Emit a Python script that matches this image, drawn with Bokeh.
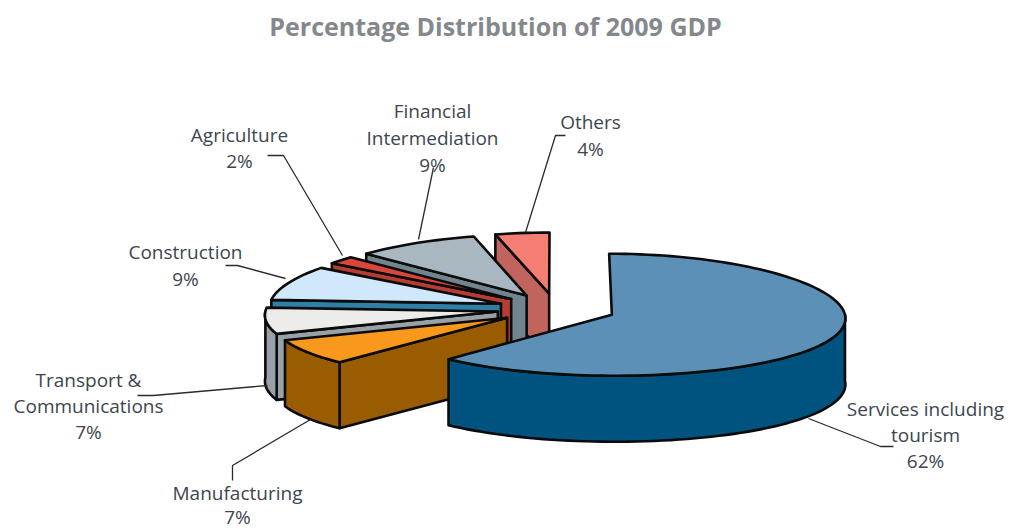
import math
from bokeh.plotting import figure
from bokeh.embed import file_html
from bokeh.resources import INLINE
from bokeh.core.properties import value

# Shares of 2009 GDP, clockwise from twelve o'clock
sectors = ["Services including tourism", "Manufacturing", "Transport & Communications",
           "Construction", "Agriculture", "Financial Intermediation", "Others"]
shares = [62, 7, 7, 9, 2, 9, 4]
top_colors = ["#5c90b6", "#f8981d", "#ececea", "#cfe9fb", "#d8463c", "#a9b8c0", "#f47d74"]
side_colors = ["#00527f", "#995c00", "#99a1a8", "#2f7fa6", "#b73c33", "#71858f", "#c2645e"]

label_lines = [["Services including", "tourism", "62%"], ["Manufacturing", "7%"],
               ["Transport &", "Communications", "7%"], ["Construction", "9%"],
               ["Agriculture", "2%"], ["Financial", "Intermediation", "9%"], ["Others", "4%"]]
label_centers = [(925, 408), (237, 492), (88, 379), (185, 251), (239, 134), (432, 110), (590, 121)]
label_spacing = [26, 24.5, 26, 27, 26, 27, 27]
leaders = [[(808, 418), (880, 446), (893, 446)],
           [(310, 419), (232, 465), (232, 480)],
           [(267, 385), (153, 395), (137, 395)],
           [(285, 278), (237, 265), (225, 265)],
           [(342, 255), (283, 155), (267, 155)],
           [(418, 239), (433, 167)],
           [(525, 232), (555, 135), (565, 135)]]

# Projection of the tilted pie
CX, CY, RX, RY = 556, 308.5, 232, 61
DEPTH = 66
EXPLODE = 0.2555
PERSPECTIVE = 0.05


def project(angle, radius, mid):
    px = radius * math.sin(angle) + EXPLODE * math.sin(mid)
    py = radius * math.cos(angle) + EXPLODE * math.cos(mid)
    return CX + RX * px * (1 - PERSPECTIVE * py), CY - RY * py


def rim(a0, a1, mid):
    steps = max(2, int(math.degrees(a1 - a0) / 2))
    return [project(a0 + (a1 - a0) * i / steps, 1, mid) for i in range(steps + 1)]


p = figure(width=1010, height=529, x_range=(0, 1010), y_range=(529, 0),
           output_backend="svg", toolbar_location=None, min_border=0)
p.axis.visible = False
p.grid.visible = False
p.outline_line_color = None
p.background_fill_color = "#ffffff"
p.border_fill_color = "#ffffff"

# Angular extent of each slice
spans = []
start = 0.0
for share in shares:
    end = start + 2 * math.pi * share / sum(shares)
    spans.append((start, end))
    start = end

OUTLINE = dict(line_color="#0b0b0b", line_width=2.6, line_join="round")


def draw_face(points, color):
    p.patch([q[0] for q in points], [q[1] for q in points], fill_color=color, **OUTLINE)


# Paint from the back slice to the front one, the largest slice last
for i in [6, 5, 4, 3, 2, 1, 0]:
    a0, a1 = spans[i]
    mid = (a0 + a1) / 2
    apex = project(0, 0, mid)

    # Cut face on the leading edge, where it turns towards the viewer
    if math.sin(a0) < -1e-6:
        edge = project(a0, 1, mid)
        draw_face([apex, edge, (edge[0], edge[1] + DEPTH), (apex[0], apex[1] + DEPTH)], side_colors[i])
    if math.sin(a1) > 1e-6:
        edge = project(a1, 1, mid)
        draw_face([apex, edge, (edge[0], edge[1] + DEPTH), (apex[0], apex[1] + DEPTH)], side_colors[i])

    # Outer wall, only the front half of the circle is visible
    r0, r1 = max(a0, math.pi / 2), min(a1, 3 * math.pi / 2)
    if r1 > r0:
        arc = rim(r0, r1, mid)
        draw_face(arc + [(q[0], q[1] + DEPTH) for q in reversed(arc)], side_colors[i])

    draw_face([apex] + rim(a0, a1, mid), top_colors[i])

# Leader lines run from the slices to their labels
for path in leaders:
    p.line([q[0] for q in path], [q[1] for q in path], line_color="#2b2b2b", line_width=1.3)

# Category labels, one text per line
for lines, (lx, ly), gap in zip(label_lines, label_centers, label_spacing):
    p.text([lx] * len(lines), [ly + gap * n for n in range(len(lines))], text=lines,
           text_font=value("Open Sans"), text_font_size="19px", text_color="#3d4650",
           text_align="center", text_baseline="middle")

p.text([495], [25], text=["Percentage Distribution of 2009 GDP"],
       text_font=value("Open Sans"), text_font_style="bold", text_font_size="25px",
       text_color="#84888c", text_align="center", text_baseline="middle")

open("out.html", "w").write(file_html(p, INLINE))
